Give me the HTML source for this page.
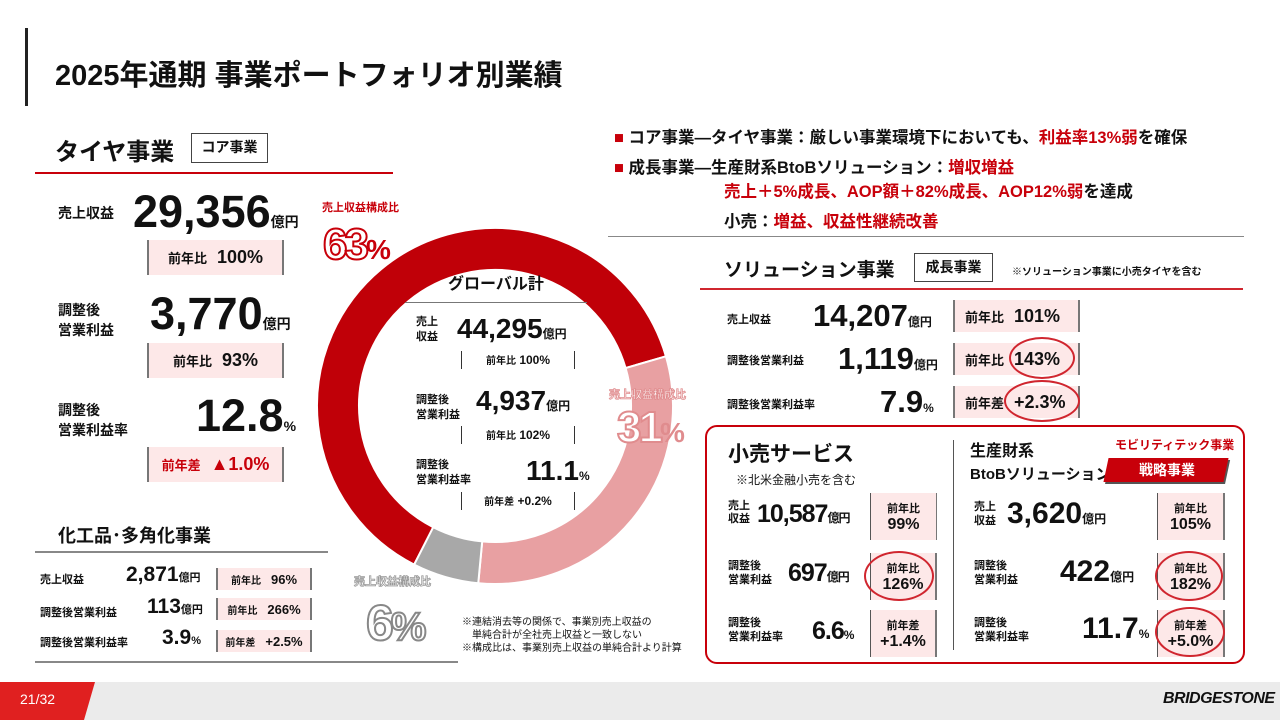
<!DOCTYPE html>
<html><head><meta charset="utf-8">
<style>
*{margin:0;padding:0;box-sizing:border-box}
body{width:1280px;height:720px;position:relative;overflow:hidden;background:#fff;font-family:"Liberation Sans","Noto Sans CJK JP",sans-serif;font-weight:bold;color:#111}
.a{position:absolute;white-space:nowrap}
.box{position:absolute;background:#fde8e8;border-left:2px solid #777;border-right:2px solid #777;display:flex;align-items:center;justify-content:center;gap:10px}
.red{color:#c8000a}
.big{font-size:45px}
.u{font-size:14px;letter-spacing:0}
.lbl{font-size:14px;line-height:20px}
.sl{font-size:11px}
.circ{position:absolute;border:2.5px solid #d0262f;border-radius:50%}
.br{position:absolute;border-left:1px solid #333;border-right:1px solid #333;height:18px;font-size:12px;text-align:center;line-height:18px}
</style></head><body>
<div class="a" style="left:25px;top:28px;width:3px;height:78px;background:#222"></div>
<div class="a" style="left:55px;top:52px;font-size:29px">2025年通期 事業ポートフォリオ別業績</div>

<!-- Tire -->
<div class="a" style="left:55px;top:132px;font-size:24px">タイヤ事業</div>
<div class="a" style="left:191px;top:133px;width:77px;height:30px;border:1.5px solid #444;font-size:14px;text-align:center;line-height:27px">コア事業</div>
<div class="a" style="left:35px;top:172px;width:358px;height:2px;background:#c8000a"></div>
<div class="a lbl" style="left:58px;top:203px">売上収益</div>
<div class="a big" style="left:133px;top:186px">29,356<span class="u">億円</span></div>
<div class="box" style="left:147px;top:240px;width:137px;height:35px"><span style="font-size:13px">前年比</span><span style="font-size:18px">100%</span></div>
<div class="a lbl" style="left:58px;top:300px">調整後<br>営業利益</div>
<div class="a big" style="left:150px;top:288px">3,770<span class="u">億円</span></div>
<div class="box" style="left:147px;top:343px;width:137px;height:35px"><span style="font-size:13px">前年比</span><span style="font-size:18px">93%</span></div>
<div class="a lbl" style="left:58px;top:400px">調整後<br>営業利益率</div>
<div class="a big" style="left:196px;top:390px">12.8<span class="u">%</span></div>
<div class="box red" style="left:147px;top:447px;width:137px;height:35px"><span style="font-size:13px">前年差</span><span style="font-size:18px">▲1.0%</span></div>

<!-- Chemical -->
<div class="a" style="left:58px;top:522px;font-size:18px">化工品･多角化事業</div>
<div class="a" style="left:35px;top:551px;width:293px;height:2px;background:#888"></div>
<div class="a sl" style="left:40px;top:571px">売上収益</div>
<div class="a" style="left:126px;top:563px;font-size:21px">2,871<span style="font-size:11px">億円</span></div>
<div class="box" style="left:216px;top:568px;width:96px;height:22px"><span style="font-size:10px">前年比</span><span style="font-size:13px">96%</span></div>
<div class="a sl" style="left:40px;top:604px">調整後営業利益</div>
<div class="a" style="left:147px;top:595px;font-size:21px">113<span style="font-size:11px">億円</span></div>
<div class="box" style="left:216px;top:598px;width:96px;height:22px"><span style="font-size:10px">前年比</span><span style="font-size:13px">266%</span></div>
<div class="a sl" style="left:40px;top:634px">調整後営業利益率</div>
<div class="a" style="left:162px;top:626px;font-size:21px">3.9<span style="font-size:11px">%</span></div>
<div class="box" style="left:216px;top:630px;width:96px;height:22px"><span style="font-size:10px">前年差</span><span style="font-size:13px">+2.5%</span></div>
<div class="a" style="left:35px;top:661px;width:423px;height:2px;background:#888"></div>

<!-- Donut -->
<svg class="a" style="left:0;top:0" width="1280" height="720" id="donut"></svg>
<div class="a" style="left:448px;top:270px;font-size:16px">グローバル計</div>
<div class="a" style="left:405px;top:302px;width:182px;height:1px;background:#777"></div>
<div class="a" style="left:416px;top:315px;font-size:11px;line-height:15px">売上<br>収益</div>
<div class="a" style="left:457px;top:313px;font-size:28px">44,295<span style="font-size:12px">億円</span></div>
<div class="br" style="left:461px;top:351px;width:114px"><span style="font-size:10px">前年比</span> 100%</div>
<div class="a" style="left:416px;top:393px;font-size:11px;line-height:15px">調整後<br>営業利益</div>
<div class="a" style="left:476px;top:385px;font-size:28px">4,937<span style="font-size:12px">億円</span></div>
<div class="br" style="left:461px;top:426px;width:114px"><span style="font-size:10px">前年比</span> 102%</div>
<div class="a" style="left:416px;top:458px;font-size:11px;line-height:15px">調整後<br>営業利益率</div>
<div class="a" style="left:526px;top:455px;font-size:28px">11.1<span style="font-size:12px">%</span></div>
<div class="br" style="left:461px;top:492px;width:114px"><span style="font-size:10px">前年差</span> +0.2%</div>

<div class="a red" style="left:322px;top:199px;font-size:11px">売上収益構成比</div>
<div class="a" style="left:323px;top:220px;font-size:44px;color:#fff;-webkit-text-stroke:2px #c8000a;letter-spacing:-3px">63<span style="font-size:28px;color:#c8000a;-webkit-text-stroke:0">%</span></div>
<div class="a" style="left:609px;top:386px;font-size:11px;color:#fff;-webkit-text-stroke:0.8px #e08c8e">売上収益構成比</div>
<div class="a" style="left:617px;top:403px;font-size:44px;color:#fff;-webkit-text-stroke:2px #e08c8e;letter-spacing:-3px">31<span style="font-size:28px;color:#e08c8e;-webkit-text-stroke:0">%</span></div>
<div class="a" style="left:354px;top:573px;font-size:11px;color:#fff;-webkit-text-stroke:0.8px #999">売上収益構成比</div>
<div class="a" style="left:366px;top:594px;font-size:50px;color:#fff;-webkit-text-stroke:2px #888;letter-spacing:-3px">6<span style="font-size:40px">%</span></div>
<div class="a" style="left:462px;top:616px;font-size:10px;line-height:13px;font-weight:normal">※連結消去等の関係で、事業別売上収益の<br>　単純合計が全社売上収益と一致しない<br>※構成比は、事業別売上収益の単純合計より計算</div>

<!-- Right top -->
<div class="a" style="left:614px;top:124px;font-size:16.5px"><span class="red">■</span> コア事業―タイヤ事業：厳しい事業環境下においても、<span class="red">利益率13%弱</span>を確保</div>
<div class="a" style="left:614px;top:154px;font-size:16.5px"><span class="red">■</span> 成長事業―生産財系BtoBソリューション：<span class="red">増収増益</span></div>
<div class="a" style="left:724px;top:178px;font-size:16.5px"><span class="red">売上＋5%成長、AOP額＋82%成長、AOP12%弱</span>を達成</div>
<div class="a" style="left:724px;top:208px;font-size:16.5px">小売：<span class="red">増益、収益性継続改善</span></div>
<div class="a" style="left:608px;top:236px;width:636px;height:1px;background:#888"></div>

<div class="a" style="left:724px;top:255px;font-size:19px">ソリューション事業</div>
<div class="a" style="left:914px;top:253px;width:79px;height:29px;border:1.5px solid #444;font-size:14px;text-align:center;line-height:26px;background:#fff">成長事業</div>
<div class="a" style="left:1012px;top:263px;font-size:10px">※ソリューション事業に小売タイヤを含む</div>
<div class="a" style="left:700px;top:288px;width:543px;height:2px;background:#d0262f"></div>
<div class="a sl" style="left:727px;top:311px">売上収益</div>
<div class="a" style="left:813px;top:298px;font-size:31px">14,207<span style="font-size:12px">億円</span></div>
<div class="box" style="left:953px;top:300px;width:127px;height:32px;justify-content:flex-start;padding-left:10px"><span style="font-size:13px">前年比</span><span style="font-size:18px">101%</span></div>
<div class="a sl" style="left:727px;top:352px">調整後営業利益</div>
<div class="a" style="left:838px;top:341px;font-size:31px">1,119<span style="font-size:12px">億円</span></div>
<div class="box" style="left:953px;top:343px;width:127px;height:32px;justify-content:flex-start;padding-left:10px"><span style="font-size:13px">前年比</span><span style="font-size:18px">143%</span></div>
<div class="circ" style="left:1009px;top:337px;width:66px;height:42px"></div>
<div class="a sl" style="left:727px;top:396px">調整後営業利益率</div>
<div class="a" style="left:880px;top:384px;font-size:31px">7.9<span style="font-size:12px">%</span></div>
<div class="box" style="left:953px;top:386px;width:127px;height:32px;justify-content:flex-start;padding-left:10px"><span style="font-size:13px">前年差</span><span style="font-size:18px">+2.3%</span></div>
<div class="circ" style="left:1004px;top:380px;width:76px;height:42px"></div>

<!-- Segment box -->
<div class="a" style="left:705px;top:425px;width:540px;height:239px;border:2px solid #c8000a;border-radius:12px"></div>
<div class="a" style="left:953px;top:440px;width:1px;height:210px;background:#555"></div>
<div class="a" style="left:728px;top:438px;font-size:21px">小売サービス</div>
<div class="a" style="left:736px;top:471px;font-size:12px;font-weight:normal">※北米金融小売を含む</div>
<div class="a sl" style="left:728px;top:500px;line-height:13px">売上<br>収益</div>
<div class="a" style="left:757px;top:500px;font-size:25px;letter-spacing:-1px">10,587<span style="font-size:12px">億円</span></div>
<div class="a sl" style="left:728px;top:559px;line-height:14px">調整後<br>営業利益</div>
<div class="a" style="left:788px;top:559px;font-size:25px;letter-spacing:-1px">697<span style="font-size:12px">億円</span></div>
<div class="a sl" style="left:728px;top:616px;line-height:14px">調整後<br>営業利益率</div>
<div class="a" style="left:812px;top:617px;font-size:25px;letter-spacing:-1px">6.6<span style="font-size:12px">%</span></div>
<div class="box" style="left:870px;top:493px;width:67px;height:47px;flex-direction:column;gap:0;border-left:1.5px solid #555;border-right:1.5px solid #777"><span style="font-size:11px">前年比</span><span style="font-size:16px">99%</span></div>
<div class="box" style="left:870px;top:553px;width:67px;height:47px;flex-direction:column;gap:0;border-left:1.5px solid #555"><span style="font-size:11px">前年比</span><span style="font-size:16px">126%</span></div>
<div class="circ" style="left:864px;top:551px;width:70px;height:50px"></div>
<div class="box" style="left:870px;top:610px;width:67px;height:47px;flex-direction:column;gap:0;border-left:1.5px solid #555"><span style="font-size:11px">前年差</span><span style="font-size:16px">+1.4%</span></div>

<div class="a" style="left:970px;top:440px;font-size:15px;line-height:23px"><span style="font-size:16px">生産財系</span><br>BtoBソリューション</div>
<div class="a red" style="left:1115px;top:436px;font-size:12px">モビリティテック事業</div>
<div class="a" style="left:1106px;top:458px;width:120px;height:24px;background:#c8000a;transform:skewX(-12deg);box-shadow:2px 2px 0 #555"></div>
<div class="a" style="left:1139px;top:460px;font-size:14px;color:#fff">戦略事業</div>
<div class="a sl" style="left:974px;top:500px;line-height:14px">売上<br>収益</div>
<div class="a" style="left:1007px;top:497px;font-size:30px">3,620<span style="font-size:12px">億円</span></div>
<div class="a sl" style="left:974px;top:559px;line-height:14px">調整後<br>営業利益</div>
<div class="a" style="left:1060px;top:555px;font-size:30px">422<span style="font-size:12px">億円</span></div>
<div class="a sl" style="left:974px;top:616px;line-height:14px">調整後<br>営業利益率</div>
<div class="a" style="left:1082px;top:612px;font-size:30px">11.7<span style="font-size:12px">%</span></div>
<div class="box" style="left:1157px;top:493px;width:68px;height:47px;flex-direction:column;gap:0;border-left:1.5px solid #555"><span style="font-size:11px">前年比</span><span style="font-size:16px">105%</span></div>
<div class="box" style="left:1157px;top:553px;width:68px;height:47px;flex-direction:column;gap:0;border-left:1.5px solid #555"><span style="font-size:11px">前年比</span><span style="font-size:16px">182%</span></div>
<div class="circ" style="left:1155px;top:551px;width:68px;height:50px"></div>
<div class="box" style="left:1157px;top:610px;width:68px;height:47px;flex-direction:column;gap:0;border-left:1.5px solid #555"><span style="font-size:11px">前年差</span><span style="font-size:16px">+5.0%</span></div>
<div class="circ" style="left:1155px;top:607px;width:70px;height:50px"></div>

<!-- Footer -->
<div class="a" style="left:0;top:682px;width:1280px;height:38px;background:#ebebeb"></div>
<svg class="a" style="left:0;top:682px" width="100" height="38"><polygon points="0,0 95,0 84,38 0,38" fill="#e02020"/></svg>
<div class="a" style="left:20px;top:691px;font-size:14px;color:#fff;font-weight:normal">21/32</div>
<div class="a" style="left:1163px;top:690px;font-size:16px;font-style:italic;font-weight:900;letter-spacing:-0.5px">BRIDGESTONE</div>

<script>
const segments = ['タイヤ事業', 'ソリューション事業', '化工品・多角化事業'];
const shares = [63, 31, 6];
const colors = ['#c00008', '#e8a0a2', '#a8a8a8'];
const startAngle = 207; // degrees clockwise from 12 o'clock, tire segment start
const cx = 495, cy = 406, rOut = 178, rIn = 136;
const svg = document.getElementById('donut');
const NS = 'http://www.w3.org/2000/svg';
const total = shares.reduce((a, b) => a + b, 0);
function pt(r, deg) { const t = deg * Math.PI / 180; return [cx + r * Math.sin(t), cy - r * Math.cos(t)]; }
let ang = startAngle;
shares.forEach((v, i) => {
  const sweep = v / total * 360;
  const a0 = ang, a1 = ang + sweep;
  const large = sweep > 180 ? 1 : 0;
  const p1 = pt(rOut, a0), p2 = pt(rOut, a1), p3 = pt(rIn, a1), p4 = pt(rIn, a0);
  const d = `M${p1} A${rOut},${rOut} 0 ${large} 1 ${p2} L${p3} A${rIn},${rIn} 0 ${large} 0 ${p4} Z`;
  const path = document.createElementNS(NS, 'path');
  path.setAttribute('d', d);
  path.setAttribute('fill', colors[i]);
  path.setAttribute('stroke', '#fff');
  path.setAttribute('stroke-width', '2');
  
  
  svg.appendChild(path);
  ang = a1;
});
</script>
</body></html>
